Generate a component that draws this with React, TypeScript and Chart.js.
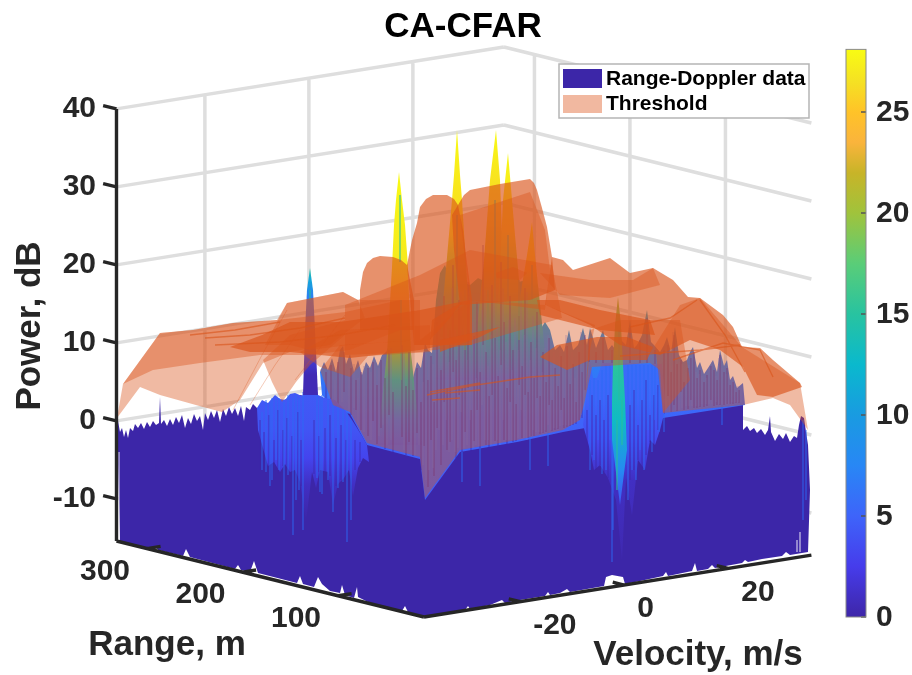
import { useEffect, useRef } from 'react';
import { Chart, registerables } from 'chart.js';
Chart.register(...registerables);

type P = number[];

// ---- axes (data units)
const powerTicks = [-10, 0, 10, 20, 30, 40];
const rangeTicks = [100, 200, 300];
const velocityTicks = [-20, 0, 20];
const wallVelocities = [-21.5, -1.5, 18.5];
const wallRanges = [100, 200, 300];
const colorbarTicks = [0, 5, 10, 15, 20, 25];
const V_MIN = -38.5, V_MAX = 36, R_MIN = 10, R_MAX = 332, Z_MIN = -15.4, Z_MAX = 40;

// ---- parula colour map as seen on the colour bar: value, r, g, b
const parula: number[][] = [
  [0, 62, 38, 168], [2.5, 70, 60, 235], [5, 62, 100, 250], [7.5, 40, 135, 245], [10, 25, 155, 225],
  [12.5, 10, 185, 205], [15, 40, 195, 160], [17.5, 90, 205, 120], [20, 160, 195, 60], [22, 200, 180, 40],
  [23.5, 250, 180, 60], [25, 255, 195, 40], [26.5, 245, 225, 35], [28, 248, 250, 20],
];

// ---- Range-Doppler surface, read as projected outlines
const noiseOutline: P[] = [
  [117, 426], [118, 421], [120, 432], [122, 428], [124, 437], [126, 430], [128, 438], [130, 428], [133, 431], [135, 424], [138, 428], [141, 423], [144, 429], [147, 422], [150, 427], [153, 421], [156, 425], [159, 423], [160, 397], [161, 424],
  [164, 420], [167, 426], [170, 419], [173, 425], [176, 417], [179, 423], [182, 415], [185, 428], [188, 418], [191, 424], [194, 414], [197, 421], [200, 416], [203, 430], [205, 413], [208, 420], [211, 411], [214, 418], [217, 410], [220, 422], [223, 409], [226, 416], [229, 407], [232, 414], [235, 408], [238, 416], [241, 406], [244, 421], [246, 407], [250, 410], [253, 404], [257, 408],
  [300, 395], [350, 405], [400, 430], [585, 420], [620, 380], [660, 400], [663, 412], [700, 408], [743, 402], [743, 430], [747, 426], [750, 431], [754, 428], [757, 433], [761, 429], [765, 435], [768, 430], [770, 416], [771, 432], [775, 441], [779, 434], [783, 439], [786, 433], [790, 442], [794, 436], [797, 438],
  [799, 425], [801, 416], [804, 418], [806, 432], [808, 445], [810, 490], [808, 552],
  [790, 555], [786, 552], [782, 556], [762, 559], [748, 562], [745, 560], [742, 563], [715, 568], [712, 565], [708, 569], [697, 571], [695, 563], [692, 571], [668, 576], [666, 572], [663, 576], [640, 581], [625, 584], [623, 577], [612, 575], [606, 577], [604, 586], [570, 592], [567, 589], [560, 593], [550, 595], [548, 592], [545, 596], [520, 600], [505, 603], [502, 600], [490, 605], [470, 609], [468, 606], [465, 610], [440, 614], [424, 616],
  [408, 612], [405, 606], [402, 611], [372, 604], [358, 597], [357, 587], [354, 598], [345, 595], [342, 585], [340, 593], [330, 591], [322, 584], [318, 577], [314, 587], [303, 584], [300, 576], [297, 583], [258, 573], [254, 561], [250, 572], [241, 570], [238, 565], [235, 569], [190, 557], [186, 549], [183, 556], [158, 550], [155, 546], [152, 549], [120, 541],
];
const forestOutline: P[] = [
  [320, 372], [324, 362], [328, 370], [332, 358], [336, 372], [340, 350], [343, 346], [346, 364], [350, 354], [354, 372], [358, 360], [362, 375], [366, 362], [370, 368], [374, 356], [378, 366], [382, 355], [386, 352], [392, 340], [400, 300], [408, 340], [413, 378], [417, 362], [421, 368], [425, 343], [428, 350], [432, 353], [436, 300], [440, 273], [445, 265], [450, 280], [462, 282], [470, 285], [478, 278], [486, 282], [494, 278], [502, 285], [510, 280], [518, 282], [527, 280], [536, 295], [540, 330], [545, 322], [550, 330], [555, 350], [560, 345], [564, 352], [569, 330], [573, 350], [578, 345], [583, 328], [587, 345], [590, 328], [596, 348], [603, 330], [608, 350], [612, 345], [617, 352], [621, 340], [626, 345], [630, 320], [634, 348], [637, 345], [642, 335], [647, 310], [651, 342], [654, 345], [660, 352], [664, 345], [667, 337], [671, 352], [675, 327], [679, 355], [683, 362], [687, 360], [690, 352], [693, 347], [697, 368], [700, 362], [704, 374], [708, 368], [713, 360], [717, 372], [720, 350], [724, 366], [727, 360], [730, 380], [733, 376], [737, 388], [743, 383],
  [745, 405], [663, 418], [650, 425], [585, 428], [563, 432], [517, 442], [460, 452], [425, 500], [420, 459], [367, 445], [350, 414], [333, 408], [322, 395],
];
const blueLeftBlock: P[] = [
  [257, 408], [262, 400], [268, 403], [275, 395], [280, 399], [285, 400], [290, 394], [295, 393], [302, 396], [310, 390], [318, 395], [325, 398], [335, 400], [345, 410], [352, 420], [362, 436], [367, 445], [369, 462], [363, 458], [358, 468], [353, 496], [349, 470], [344, 478], [338, 484], [333, 505], [328, 472], [320, 470], [316, 488], [312, 472], [306, 522], [300, 482], [295, 470], [290, 472], [285, 464], [280, 472], [274, 462], [268, 466], [263, 448], [258, 430],
];
const blueRightBlock: P[] = [
  [583, 425], [590, 362], [593, 378], [597, 378], [602, 363], [662, 364], [665, 400], [664, 414], [660, 430], [655, 445], [650, 440], [645, 470], [638, 460], [632, 515], [626, 478], [622, 560], [616, 500], [608, 478], [600, 465], [594, 470], [590, 450],
];
const spikes: { outline: P[]; ramp: number[][] }[] = [
  { outline: [[310, 268], [313, 290], [315, 330], [318, 395], [303, 395], [305, 330], [307, 290]], ramp: [[268, 15], [280, 11], [300, 6.5], [345, 3.5], [375, 0.5]] },
  { outline: [[399, 172], [402, 200], [405, 225], [408, 267], [411, 353], [416, 400], [422, 445], [376, 445], [382, 400], [387, 353], [392, 267], [394, 225], [396, 200]], ramp: [[172, 28], [265, 27], [300, 24], [345, 20], [380, 13], [420, 6], [445, 4.5]] },
  { outline: [[457, 130], [460, 175], [462, 200], [467, 280], [476, 380], [436, 380], [445, 280], [452, 200], [454, 175]], ramp: [[130, 28], [235, 26], [285, 19], [330, 12], [380, 5.5]] },
  { outline: [[496, 130], [500, 180], [503, 260], [510, 380], [472, 380], [484, 260], [490, 180]], ramp: [[130, 28], [205, 26], [270, 22], [330, 12], [380, 5.5]] },
  { outline: [[508, 153], [512, 200], [515, 235], [520, 290], [528, 380], [490, 380], [499, 290], [503, 200]], ramp: [[153, 28], [230, 26], [290, 19], [335, 11], [380, 5.5]] },
  { outline: [[532, 222], [535, 255], [538, 285], [548, 380], [510, 380], [522, 285], [527, 255]], ramp: [[222, 28], [270, 25], [300, 17], [340, 10], [380, 5.5]] },
  { outline: [[618, 297], [621, 325], [623, 365], [625, 400], [627, 450], [620, 505], [612, 440], [612, 400], [613, 365], [615, 325]], ramp: [[297, 20], [325, 18], [370, 15], [420, 13], [470, 8], [505, 4]] },
];
// vertical streaks: x, top, bottom
const darkStreaks: P[] = [
  [326, 372, 402], [331, 365, 405], [338, 362, 408], [344, 352, 392], [351, 368, 415], [356, 380, 410], [361, 372, 430], [368, 368, 436], [373, 362, 421], [377, 385, 444], [381, 360, 428], [385, 378, 449], [389, 350, 415], [393, 392, 452], [402, 345, 437], [406, 386, 455], [409, 352, 442], [413, 390, 456], [417, 368, 433], [421, 402, 470], [424, 352, 446], [428, 380, 487], [431, 356, 440],
  [434, 402, 476], [437, 322, 428], [441, 370, 465], [444, 296, 402], [447, 388, 450], [450, 330, 442], [453, 265, 372], [456, 360, 458], [459, 300, 395], [462, 388, 452], [465, 340, 432], [468, 282, 388], [471, 410, 452], [474, 336, 441], [477, 302, 410], [480, 372, 450], [483, 245, 345], [486, 352, 445], [489, 396, 448], [492, 285, 395], [495, 338, 441], [498, 376, 446], [501, 262, 365], [504, 322, 440], [507, 388, 444], [510, 296, 402], [513, 350, 442], [516, 404, 441], [519, 316, 385], [522, 366, 438], [525, 288, 395], [528, 392, 438], [531, 342, 436], [534, 378, 436], [537, 312, 398], [540, 396, 434], [543, 352, 433], [546, 382, 432], [549, 338, 405], [552, 400, 431], [555, 368, 430], [558, 386, 429], [561, 356, 410], [564, 398, 428], [567, 346, 427], [570, 384, 426], [573, 364, 425], [576, 402, 424], [579, 352, 420], [582, 372, 418], [585, 335, 390], [589, 340, 362], [596, 352, 363], [603, 338, 363], [612, 350, 363], [621, 345, 363], [630, 328, 363], [640, 340, 363], [647, 318, 363], [655, 350, 365],
  [664, 350, 414], [668, 345, 396], [671, 372, 412], [674, 335, 405], [677, 364, 411], [681, 360, 392], [684, 382, 410], [688, 368, 409], [691, 358, 400], [694, 352, 408], [697, 378, 408], [700, 370, 407], [704, 382, 407], [707, 375, 406], [711, 366, 400], [714, 370, 406], [717, 380, 405], [720, 355, 405], [724, 372, 405], [727, 368, 404], [730, 385, 404], [733, 382, 404], [736, 392, 403], [739, 390, 403],
];
const lightStreaks: P[] = [
  [329, 368, 400], [335, 380, 405], [342, 356, 402], [349, 370, 412], [354, 364, 408], [358, 378, 425], [364, 366, 432], [371, 372, 440], [375, 360, 410], [379, 368, 436], [383, 360, 425], [387, 376, 445], [391, 348, 440], [404, 352, 450], [411, 380, 450], [415, 376, 455], [419, 366, 445], [423, 382, 465], [426, 350, 480], [429, 360, 470], [433, 364, 468], [436, 350, 450],
  [439, 300, 430], [443, 350, 445], [446, 310, 420], [449, 362, 452], [452, 288, 440], [455, 330, 452], [458, 345, 448], [461, 292, 412], [464, 320, 448], [467, 360, 445], [470, 300, 420], [473, 322, 448], [476, 378, 445], [479, 335, 446], [482, 310, 405], [485, 290, 440], [488, 366, 440], [491, 335, 445], [494, 300, 380], [497, 325, 440], [500, 350, 445], [503, 288, 420], [506, 342, 440], [509, 320, 440], [512, 370, 440], [515, 318, 440], [518, 350, 438], [521, 300, 410], [524, 335, 438], [527, 292, 440], [530, 360, 436], [533, 316, 430], [536, 348, 432], [539, 320, 432], [542, 372, 432], [545, 348, 430], [548, 335, 430], [551, 365, 430], [554, 352, 428], [557, 375, 428], [560, 348, 426], [563, 362, 425], [566, 335, 425], [569, 368, 425], [572, 352, 424], [575, 378, 422], [578, 348, 420], [581, 332, 415], [584, 345, 410],
  [666, 345, 410], [670, 352, 412], [673, 332, 400], [676, 352, 410], [679, 362, 410], [682, 364, 408], [686, 372, 406], [689, 365, 406], [692, 352, 406], [696, 372, 406], [699, 374, 406], [702, 376, 404], [706, 378, 404], [709, 368, 404], [712, 362, 404], [716, 376, 402], [719, 358, 404], [722, 368, 404], [726, 374, 404], [729, 378, 404], [732, 378, 402], [735, 388, 402], [738, 386, 402], [741, 388, 402],
];
const blockShadows: P[] = [
  [260, 420, 470], [264, 432, 468], [269, 415, 468], [274, 440, 464], [278, 410, 474], [283, 430, 466], [287, 418, 470], [292, 436, 472], [298, 412, 484], [301, 440, 486], [314, 420, 474], [319, 436, 472], [325, 428, 476], [330, 415, 476], [336, 438, 486], [341, 425, 480], [346, 440, 478], [355, 440, 470], [360, 442, 462],
  [587, 410, 450], [592, 395, 455], [596, 415, 470], [600, 400, 465], [604, 420, 472], [608, 395, 478], [630, 405, 480], [634, 390, 470], [638, 425, 460], [642, 400, 468], [646, 380, 455], [650, 415, 442], [654, 395, 445], [658, 385, 430],
];
const brightStreaks: P[] = [
  [262, 412, 470], [266, 400, 472], [270, 402, 486], [272, 398, 480], [276, 400, 460], [279, 398, 470], [284, 402, 520], [288, 395, 475], [293, 398, 535], [296, 395, 500], [299, 398, 490], [303, 392, 530], [317, 395, 478], [320, 398, 492], [322, 395, 494], [328, 400, 480], [333, 402, 512], [338, 405, 488], [343, 408, 482], [347, 412, 542], [351, 420, 520],
  [590, 380, 470], [594, 378, 460], [598, 380, 440], [602, 370, 474], [606, 365, 470], [610, 365, 440], [612, 400, 562], [613, 420, 530], [628, 365, 500], [632, 365, 470], [636, 365, 480], [640, 365, 450], [644, 365, 470], [648, 365, 430], [652, 365, 452], [655, 365, 420], [659, 368, 432],
  [664, 414, 432], [722, 405, 425], [548, 425, 466], [530, 440, 470], [462, 452, 482], [480, 448, 486], [530, 436, 458], [803, 420, 520], [806, 430, 500],
];
const greenStreaks: P[] = [
  [400, 195, 262], [401, 300, 380], [457, 215, 300], [495, 200, 300], [508, 235, 300], [532, 265, 300], [465, 290, 350], [488, 290, 340], [519, 280, 340], [619, 330, 400], [622, 400, 445], [617, 420, 490], [310, 290, 300],
];
const gapStreaks: P[] = [
  [119, 452, 538], [797, 540, 552], [800, 532, 552],
];

// ---- Threshold surface: outline, number of stacked sheets
const thresholdSheets: { outline: P[]; sheets: number }[] = [
  { sheets: 1, outline: [[117, 418], [123, 384], [160, 333], [193, 330], [233, 323], [277, 320], [287, 303], [343, 292], [358, 300], [365, 318], [330, 345], [290, 352], [263, 363], [240, 400], [222, 412], [203, 407], [160, 395], [140, 387]] },
  { sheets: 1, outline: [[123, 384], [160, 333], [193, 330], [233, 323], [277, 320], [295, 318], [345, 312], [400, 300], [400, 330], [350, 350], [310, 355], [260, 355], [200, 363], [153, 370]] },
  { sheets: 1, outline: [[265, 345], [287, 303], [343, 292], [358, 300], [420, 300], [420, 340], [350, 345], [310, 350], [290, 345]] },
  { sheets: 1, outline: [[263, 360], [272, 382], [282, 402], [296, 382], [310, 365], [345, 335], [345, 320], [290, 335]] },
  { sheets: 1, outline: [[300, 352], [320, 367], [350, 377], [368, 356], [430, 352], [430, 325], [340, 330]] },
  { sheets: 2, outline: [[230, 347], [262, 335], [290, 322], [340, 322], [420, 310], [470, 300], [470, 340], [420, 350], [350, 358], [290, 352], [250, 352]] },
  { sheets: 2, outline: [[360, 290], [363, 272], [367, 263], [373, 258], [380, 256], [393, 257], [401, 260], [407, 265], [414, 300], [414, 330], [380, 330], [360, 330]] },
  { sheets: 2, outline: [[407, 265], [412, 240], [417, 223], [420, 207], [426, 199], [433, 195], [447, 195], [454, 199], [458, 205], [463, 230], [466, 255], [472, 300], [472, 345], [414, 345]] },
  { sheets: 2, outline: [[452, 215], [458, 205], [464, 195], [470, 190], [500, 184], [530, 179], [534, 183], [537, 190], [542, 208], [547, 227], [552, 257], [555, 290], [530, 300], [460, 305], [454, 250]] },
  { sheets: 1, outline: [[460, 215], [530, 192], [545, 230], [550, 270], [545, 310], [470, 300]] },
  { sheets: 1, outline: [[345, 305], [420, 275], [470, 250], [552, 265], [562, 318], [470, 345], [420, 352], [345, 355]] },
  { sheets: 1, outline: [[496, 273], [513, 267], [527, 273], [520, 280], [497, 278]] },
  { sheets: 2, outline: [[552, 257], [563, 260], [573, 270], [610, 258], [630, 273], [653, 268], [673, 280], [688, 297], [700, 298], [723, 315], [733, 327], [742, 347], [760, 348], [773, 360], [800, 383], [802, 387], [773, 397], [757, 395], [743, 367], [720, 350], [690, 340], [660, 355], [620, 345], [590, 325], [545, 305]] },
  { sheets: 1, outline: [[808, 430], [800, 383], [742, 347], [700, 298], [680, 305], [655, 345], [663, 413], [743, 405], [773, 398], [790, 405]] },
  { sheets: 1, outline: [[320, 370], [333, 405], [350, 412], [367, 443], [420, 457], [425, 498], [460, 450], [517, 440], [563, 430], [580, 420], [585, 400], [590, 350], [595, 325], [545, 305], [470, 300], [420, 340], [340, 345]] },
  { sheets: 1, outline: [[585, 400], [592, 367], [650, 363], [660, 370], [663, 413], [690, 380], [680, 320], [620, 320], [590, 330]] },
  { sheets: 2, outline: [[540, 357], [557, 345], [597, 337], [627, 337], [653, 347], [647, 360], [590, 360], [567, 370]] },
  { sheets: 2, outline: [[440, 340], [500, 327], [480, 337], [440, 352]] },
  { sheets: 2, outline: [[432, 320], [462, 302], [450, 318], [430, 340]] },
  { sheets: 2, outline: [[537, 300], [560, 300], [600, 310], [650, 320], [655, 335], [600, 330], [540, 315]] },
  { sheets: 1, outline: [[540, 273], [590, 280], [633, 280], [653, 268], [660, 285], [610, 298], [560, 295]] },
];
const thresholdCreases: P[][] = [
  [[190, 335], [235, 330], [280, 322]], [[205, 338], [250, 335], [300, 328], [345, 318]], [[215, 345], [280, 342], [340, 335], [395, 325]],
  [[427, 395], [470, 386], [530, 377], [560, 375]], [[430, 392], [480, 383]], [[432, 400], [460, 398]], [[445, 393], [480, 390]],
  [[630, 327], [670, 318], [697, 300]], [[673, 360], [723, 343], [760, 350], [773, 377]], [[620, 356], [700, 350], [740, 345]], [[700, 300], [725, 335], [745, 372]],
];
const faintCreases: P[][] = [
  [[233, 410], [262, 355], [287, 310]], [[250, 405], [275, 365], [300, 330]], [[295, 380], [330, 335], [345, 315]],
];

const title = 'CA-CFAR';
const seriesNames = ['Range-Doppler data', 'Threshold'];

const project = (v: number, r: number, z: number) => ({
  x: 424 + (v - V_MIN) * 5.2 - (r - R_MIN) * 0.955,
  y: 617 - (v - V_MIN) * 0.83 - (r - R_MIN) * 0.236 - (z - Z_MIN) * 7.8,
});
const cbY = (value: number) => 617 - 20.2 * value;
const pts = (o: P[]) => o.map(([x, y]) => ({ x, y }));

function parulaColor(value: number) {
  let i = 0;
  while (i < parula.length - 2 && parula[i + 1][0] <= value) i++;
  const a = parula[i], b = parula[i + 1];
  const t = Math.min(1, Math.max(0, (value - a[0]) / (b[0] - a[0])));
  return `rgb(${[1, 2, 3].map((k) => Math.round(a[k] + (b[k] - a[k]) * t)).join(',')})`;
}

const polygon = (outline: P[], fillStyle?: string, ramp?: number[][]) => ({
  type: 'line' as const, data: pts(outline), polygon: { fillStyle, ramp }, pointRadius: 0, borderWidth: 0,
});
const strokes = (segments: P[][], color: string, width: number) => {
  const data: any[] = [];
  segments.forEach((s) => { s.forEach(([x, y]) => data.push({ x, y })); data.push({ x: s[0][0], y: NaN }); });
  return { type: 'line' as const, data, borderColor: color, borderWidth: width, pointRadius: 0, spanGaps: false, tension: 0 };
};
const vertical = (list: P[]) => list.map(([x, a, b]) => [[x, a], [x, b]]);
const line3 = (a: number[], b: number[]) => {
  const p = project(a[0], a[1], a[2]), q = project(b[0], b[1], b[2]);
  return [[p.x, p.y], [q.x, q.y]];
};
const th = (n: number) => `rgba(217,83,25,${1 - Math.pow(0.6, n)})`;

function buildDatasets() {
  const grid: P[][] = [];
  powerTicks.forEach((z) => {
    grid.push(line3([V_MIN, R_MAX, z], [V_MAX, R_MAX, z]));
    grid.push(line3([V_MAX, R_MAX, z], [V_MAX, R_MIN, z]));
  });
  wallVelocities.forEach((v) => grid.push(line3([v, R_MAX, Z_MIN], [v, R_MAX, Z_MAX])));
  wallRanges.forEach((r) => grid.push(line3([V_MAX, r, Z_MIN], [V_MAX, r, Z_MAX])));

  const axes: P[][] = [
    line3([V_MIN, R_MAX, Z_MIN], [V_MIN, R_MAX, Z_MAX]),
    line3([V_MIN, R_MAX, Z_MIN], [V_MIN, R_MIN, Z_MIN]),
    line3([V_MIN, R_MIN, Z_MIN], [V_MAX, R_MIN, Z_MIN]),
  ];
  powerTicks.forEach((z) => axes.push(line3([V_MIN, R_MAX, z], [V_MIN, R_MAX + 14, z])));
  rangeTicks.forEach((r) => axes.push(line3([V_MIN, r, Z_MIN], [V_MIN + 2.6, r, Z_MIN])));
  velocityTicks.forEach((v) => axes.push(line3([v, R_MIN, Z_MIN], [v, R_MIN + 12, Z_MIN])));

  const layers: any[] = [
    strokes(grid, 'rgb(222,222,222)', 3.5),
    { ...polygon(noiseOutline, 'rgb(60,38,168)'), label: seriesNames[0] },
    polygon(forestOutline, undefined, [[265, 14], [300, 12], [345, 7.5], [420, 5], [500, 4.5]]),
    ...spikes.slice(1, 6).map((s) => polygon(s.outline, undefined, s.ramp)),
    strokes(vertical(darkStreaks), 'rgba(62,38,168,0.55)', 1.3),
    strokes(vertical(lightStreaks), 'rgba(85,125,245,0.4)', 1.2),
    polygon(blueLeftBlock, undefined, [[390, 4.4], [430, 4], [458, 3], [485, 1], [520, 0]]),
    polygon(blueRightBlock, undefined, [[365, 5.6], [400, 5], [440, 3.5], [480, 1], [560, 0.3]]),
    strokes(vertical(blockShadows), 'rgba(62,38,168,0.45)', 1.6),
    strokes(vertical(brightStreaks), 'rgba(45,105,245,0.7)', 1.3),
    polygon(spikes[0].outline, undefined, spikes[0].ramp),
    polygon(spikes[6].outline, undefined, spikes[6].ramp),
    strokes(vertical(greenStreaks), 'rgba(40,190,160,0.7)', 1.6),
    strokes(vertical(gapStreaks), 'rgba(255,255,255,0.75)', 1.2),
    ...thresholdSheets.map((t, i) => ({ ...polygon(t.outline, th(t.sheets)), label: i === 0 ? seriesNames[1] : undefined })),
    strokes(thresholdCreases, 'rgba(217,83,25,0.6)', 1.4),
    strokes(faintCreases, 'rgba(217,83,25,0.3)', 1),
    strokes(axes, '#262626', 3.4),
    polygon([[846, cbY(28.1)], [866, cbY(28.1)], [866, cbY(0)], [846, cbY(0)]], undefined,
      parula.map((s) => [cbY(s[0]), s[0]])),
  ];
  return layers.reverse(); // Chart.js paints the first dataset last
}

const polygonPlugin = {
  id: 'polygonFill',
  beforeDatasetDraw(chart: any, args: any) {
    const ds = chart.data.datasets[args.index];
    if (!ds.polygon) return;
    const { ctx, scales } = chart;
    const { fillStyle, ramp } = ds.polygon;
    let fill = fillStyle;
    if (ramp) {
      const first = ramp[0][0], last = ramp[ramp.length - 1][0];
      fill = ctx.createLinearGradient(0, scales.y.getPixelForValue(first), 0, scales.y.getPixelForValue(last));
      ramp.forEach((s: number[]) => fill.addColorStop((s[0] - first) / (last - first), parulaColor(s[1])));
    }
    ctx.save();
    ctx.beginPath();
    args.meta.data.forEach((p: any, i: number) => (i ? ctx.lineTo(p.x, p.y) : ctx.moveTo(p.x, p.y)));
    ctx.closePath();
    ctx.fillStyle = fill;
    ctx.fill();
    ctx.restore();
    return false;
  },
};

const textPlugin = {
  id: 'labels',
  afterDatasetsDraw(chart: any) {
    const { ctx } = chart;
    const font = (s: number) => `bold ${s}px "Liberation Sans", Arial, sans-serif`;
    const put = (s: string, x: number, y: number, size: number, align: CanvasTextAlign = 'center', color = '#262626') => {
      ctx.font = font(size); ctx.fillStyle = color; ctx.textAlign = align; ctx.textBaseline = 'middle'; ctx.fillText(s, x, y);
    };
    ctx.save();
    put(title, 463, 27, 35, 'center', '#000');
    powerTicks.forEach((z) => put(String(z), 96, project(V_MIN, R_MAX, z).y, 30, 'right'));
    rangeTicks.forEach((r) => { const p = project(V_MIN, r, Z_MIN); put(String(r), p.x - 17, p.y + 23, 30, 'right'); });
    velocityTicks.forEach((v) => { const p = project(v, R_MIN, Z_MIN); put(String(v), p.x + 13, p.y + 24, 30, 'left'); });
    colorbarTicks.forEach((v) => {
      ctx.strokeStyle = '#555'; ctx.lineWidth = 1.5;
      ctx.beginPath(); ctx.moveTo(861, cbY(v)); ctx.lineTo(866, cbY(v)); ctx.stroke();
      put(String(v), 876, cbY(v) + 1, 30, 'left');
    });
    ctx.strokeStyle = '#8a8a8a'; ctx.lineWidth = 1;
    ctx.strokeRect(846, cbY(28.1), 20, cbY(0) - cbY(28.1));
    put('Range, m', 167, 645, 35);
    put('Velocity, m/s', 698, 655, 35);
    ctx.save(); ctx.translate(30, 326); ctx.rotate(-Math.PI / 2); put('Power, dB', 0, 0, 35); ctx.restore();
    // legend
    ctx.fillStyle = '#fff'; ctx.fillRect(559, 64, 250, 54);
    ctx.strokeStyle = '#b5b5b5'; ctx.lineWidth = 1.5; ctx.strokeRect(559, 64, 250, 54);
    ctx.fillStyle = 'rgb(60,38,168)'; ctx.fillRect(563, 69, 39, 19);
    ctx.fillStyle = 'rgb(241,184,160)'; ctx.fillRect(563, 95, 39, 18);
    put(seriesNames[0], 606, 79, 21, 'left', '#000');
    put(seriesNames[1], 606, 104, 21, 'left', '#000');
    ctx.restore();
  },
};

export default function App() {
  const ref = useRef<HTMLCanvasElement>(null);
  useEffect(() => {
    document.body.style.margin = '0';
    const chart = new Chart(ref.current!, {
      type: 'line',
      data: { datasets: buildDatasets() as any },
      plugins: [polygonPlugin, textPlugin],
      options: {
        animation: false, responsive: false,
        layout: { padding: 0 },
        elements: { line: { tension: 0 } },
        plugins: { legend: { display: false }, tooltip: { enabled: false }, title: { display: false } },
        scales: {
          x: { type: 'linear', min: 0, max: 912, display: false },
          y: { type: 'linear', min: 0, max: 675, reverse: true, display: false },
        },
      } as any,
    });
    return () => chart.destroy();
  }, []);
  return <canvas ref={ref} width={912} height={675} style={{ display: 'block', background: '#fff' }} />;
}
